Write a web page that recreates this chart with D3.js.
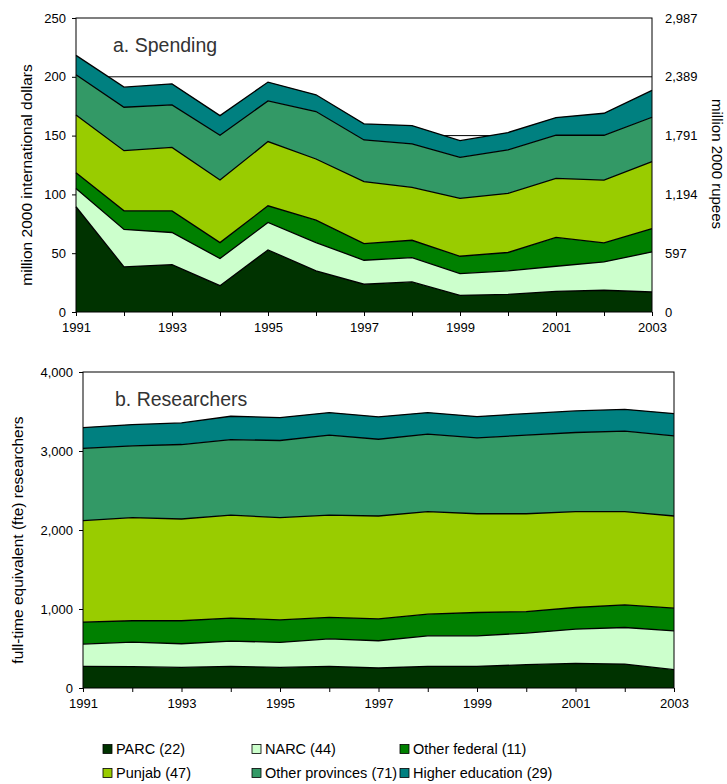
<!DOCTYPE html>
<html>
<head>
<meta charset="utf-8">
<script src="https://cdn.jsdelivr.net/npm/d3@7"></script>
<style>
  body { margin: 0; background: #fff; }
  svg { display: block; font-family: "Liberation Sans", Arial, sans-serif; }
</style>
</head>
<body>
<script>
// years on the x axis
const years = d3.range(1991, 2004);
const keys = ["PARC", "NARC", "Other federal", "Punjab", "Other provinces", "Higher education"];
const legendLabels = ["PARC (22)", "NARC (44)", "Other federal (11)", "Punjab (47)", "Other provinces (71)", "Higher education (29)"];
const colors = ["#003300", "#ccffcc", "#008000", "#99cc00", "#339966", "#008080"];

// a. spending, million 2000 international dollars
const spendPARC = [89.5, 38.4, 40.3, 22.4, 52.8, 35.0, 23.6, 25.6, 14.2, 15.0, 17.6, 18.5, 17.0];
const spendNARC = [15.5, 31.8, 27.3, 23.1, 23.3, 24.0, 20.4, 20.7, 18.5, 20.0, 21.3, 24.1, 34.1];
const spendOtherFed = [13.5, 15.8, 18.4, 13.5, 14.2, 19.1, 14.2, 14.7, 14.7, 15.6, 24.5, 16.2, 19.9];
const spendPunjab = [49.1, 51.2, 54.0, 53.2, 54.6, 52.0, 52.6, 45.0, 49.2, 50.3, 50.2, 53.4, 56.8];
const spendOtherProv = [34.1, 36.9, 36.1, 38.1, 34.6, 40.4, 35.5, 36.9, 34.9, 36.9, 36.7, 38.1, 37.8];
const spendHigherEd = [16.5, 17.1, 17.9, 16.7, 16.0, 14.2, 13.7, 15.6, 14.2, 14.8, 15.0, 18.7, 22.8];

// b. researchers, fte
const resPARC = [274, 270, 261, 274, 261, 274, 253, 274, 274, 295, 312, 303, 232];
const resNARC = [282, 311, 299, 320, 316, 349, 345, 387, 387, 400, 433, 463, 492];
const resOtherFed = [278, 270, 291, 290, 286, 270, 278, 274, 295, 273, 274, 287, 287];
const resPunjab = [1284, 1305, 1288, 1305, 1293, 1296, 1301, 1297, 1250, 1238, 1213, 1179, 1166];
const resOtherProv = [914, 909, 943, 956, 977, 1011, 972, 981, 960, 994, 1002, 1019, 1015];
const resHigherEd = [265, 270, 274, 295, 290, 286, 283, 273, 270, 274, 273, 277, 282];

// rupee labels for the right axis of panel a
const rupeeTicks = ["0", "597", "1,194", "1,791", "2,389", "2,987"];

function toRows(series) {
  return years.map((y, i) => {
    const row = {year: y};
    keys.forEach((k, j) => row[k] = series[j][i]);
    return row;
  });
}

const svg = d3.select("body").append("svg")
  .attr("width", 727)
  .attr("height", 784);

function panel({rows, top, bottom, left, right, yMax, yStep, title, titlePos, yLabel, yLabelPos, grid}) {
  const x = d3.scaleLinear().domain([1991, 2003]).range([left, right]);
  const y = d3.scaleLinear().domain([0, yMax]).range([bottom, top]);
  const g = svg.append("g");

  if (grid) {
    g.append("g").selectAll("line")
      .data(d3.range(yStep, yMax, yStep))
      .join("line")
      .attr("x1", left).attr("x2", right)
      .attr("y1", d => y(d)).attr("y2", d => y(d))
      .attr("stroke", "#000").attr("stroke-width", 1);
  }

  const stacked = d3.stack().keys(keys)(rows);
  const area = d3.area()
    .x(d => x(d.data.year))
    .y0(d => y(d[0]))
    .y1(d => y(d[1]));
  const line = d3.line()
    .x(d => x(d.data.year))
    .y(d => y(d[1]));

  g.append("g").selectAll("path")
    .data(stacked)
    .join("path")
    .attr("d", area)
    .attr("fill", (d, i) => colors[i]);
  g.append("g").selectAll("path")
    .data(stacked)
    .join("path")
    .attr("d", line)
    .attr("fill", "none")
    .attr("stroke", "#000")
    .attr("stroke-width", 1.3);

  // frame
  g.append("rect")
    .attr("x", left).attr("y", top)
    .attr("width", right - left).attr("height", bottom - top)
    .attr("fill", "none").attr("stroke", "#000").attr("stroke-width", 1);

  const xAxis = g.append("g")
    .attr("transform", `translate(0,${bottom})`)
    .call(d3.axisBottom(x).tickValues(years).tickSize(4)
      .tickFormat(d => (d - 1991) % 2 === 0 ? d : ""));
  const yAxis = g.append("g")
    .attr("transform", `translate(${left},0)`)
    .call(d3.axisLeft(y).ticks(yMax / yStep).tickSize(4).tickPadding(6)
      .tickFormat(d3.format(",")));
  [xAxis, yAxis].forEach(a => {
    a.select(".domain").remove();
    a.selectAll("line").attr("stroke", "#000");
    a.selectAll("text").attr("font-size", 13).attr("fill", "#000")
      .attr("font-family", "Liberation Sans, Arial, sans-serif");
  });
  xAxis.selectAll("text").attr("dy", "1.0em");

  g.append("text")
    .attr("x", titlePos[0]).attr("y", titlePos[1])
    .attr("font-size", 19.5).attr("fill", "#333")
    .text(title);
  g.append("text")
    .attr("transform", `translate(${yLabelPos[0]},${yLabelPos[1]}) rotate(-90)`)
    .attr("text-anchor", "middle")
    .attr("font-size", 15.5).attr("fill", "#000")
    .text(yLabel);
  return {x, y, g};
}

const spending = [spendPARC, spendNARC, spendOtherFed, spendPunjab, spendOtherProv, spendHigherEd];
const researchers = [resPARC, resNARC, resOtherFed, resPunjab, resOtherProv, resHigherEd];

const a = panel({
  rows: toRows(spending), top: 18, bottom: 312, left: 76, right: 652,
  yMax: 250, yStep: 50, title: "a. Spending", titlePos: [113, 52],
  yLabel: "million 2000 international dollars", yLabelPos: [32, 175], grid: true
});

// right axis (rupees)
const yR = d3.scaleLinear().domain([0, 250]).range([312, 18]);
a.g.append("g").selectAll("text")
  .data(rupeeTicks)
  .join("text")
  .attr("x", 665)
  .attr("y", (d, i) => yR(i * 50))
  .attr("dy", "0.35em")
  .attr("font-size", 13)
  .text(d => d);
a.g.append("text")
  .attr("transform", "translate(712,164) rotate(90)")
  .attr("text-anchor", "middle")
  .attr("font-size", 15)
  .text("million 2000 rupees");

panel({
  rows: toRows(researchers), top: 372, bottom: 688, left: 83, right: 674,
  yMax: 4000, yStep: 1000, title: "b. Researchers", titlePos: [115, 406],
  yLabel: "full-time equivalent (fte) researchers", yLabelPos: [23, 540], grid: false
});

// legend
const legend = svg.append("g");
const colX = [103, 252, 400];
const rowY = [749, 773];
legendLabels.forEach((lab, i) => {
  const cx = colX[i % 3], cy = rowY[Math.floor(i / 3)];
  legend.append("rect")
    .attr("x", cx).attr("y", cy - 4.5)
    .attr("width", 9).attr("height", 9)
    .attr("fill", colors[i]).attr("stroke", "#000").attr("stroke-width", 0.8);
  legend.append("text")
    .attr("x", cx + 13).attr("y", cy)
    .attr("dy", "0.35em")
    .attr("font-size", 14.5)
    .text(lab);
});
</script>
</body>
</html>
